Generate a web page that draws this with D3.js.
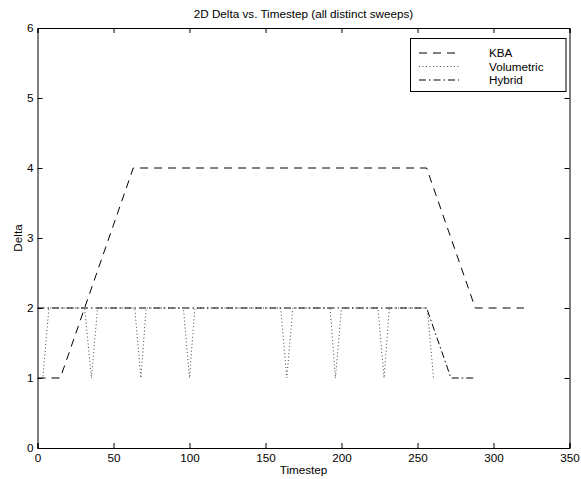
<!DOCTYPE html>
<html><head><meta charset="utf-8">
<script src="https://cdn.jsdelivr.net/npm/d3@7"></script>
<style>body{margin:0;background:#fff}svg{display:block}text{font-family:"Liberation Sans",Arial,sans-serif;fill:#000}</style>
</head><body><svg id="c" width="581" height="479"></svg>
<script>
const title = "2D Delta vs. Timestep (all distinct sweeps)";
const xLabel = "Timestep";
const yLabel = "Delta";
const xTicks = [0,50,100,150,200,250,300,350];
const yTicks = [0,1,2,3,4,5,6];
const seriesNames = ["KBA","Volumetric","Hybrid"];
const kbaX = [0,15,63,256,288,320];
const kbaY = [1,1,4,4,2,2];
const volX = [0,3.5,7.5,31,35.5,39.5,64,68,71.5,96,100,103.5,160,164,168,192.5,196,200,224,228,231.5,256.5,260.5];
const volY = [1,1,2,2,1,2,2,1,2,2,1,2,2,1,2,2,1,2,2,1,2,2,1];
const hybX = [0,256,272,288];
const hybY = [2,2,1,1];

const svg = d3.select("#c");
const L=37.5, R=569.5, T=28, B=448;
const x = d3.scaleLinear().domain([0,350]).range([L,R]);
const y = d3.scaleLinear().domain([0,6]).range([B,T]);
const fs = 11.7;

// axes
const gB = svg.append("g").attr("transform",`translate(0,${B})`).call(d3.axisBottom(x).tickValues(xTicks).tickSize(-5).tickPadding(6).tickFormat(d3.format("d")));
const gT = svg.append("g").attr("transform",`translate(0,${T})`).call(d3.axisTop(x).tickValues(xTicks).tickSize(-5).tickFormat(""));
const gL = svg.append("g").attr("transform",`translate(${L},0)`).call(d3.axisLeft(y).tickValues(yTicks).tickSize(-5).tickPadding(4).tickFormat(d3.format("d")));
const gR = svg.append("g").attr("transform",`translate(${R},0)`).call(d3.axisRight(y).tickValues(yTicks).tickSize(-5).tickFormat(""));
[gB,gT,gL,gR].forEach(g=>{
  g.selectAll("path").attr("stroke","#000").attr("stroke-width",1);
  g.selectAll("line").attr("stroke","#000");
  g.selectAll("text").attr("font-size",fs).attr("font-family","Liberation Sans, Arial, sans-serif");
});
gB.selectAll("text").attr("dy","0.71em");

const clip = svg.append("defs").append("clipPath").attr("id","pc").append("rect").attr("x",L).attr("y",T).attr("width",R-L).attr("height",B-T);

const line = d3.line().x(d=>x(d[0])).y(d=>y(d[1]));
const series = [
  {pts: d3.zip(kbaX,kbaY), dash:"8,6", col:"#000"},
  {pts: d3.zip(volX,volY), dash:"1,2.5", col:"#444"},
  {pts: d3.zip(hybX,hybY), dash:"7,3,1.5,3", col:"#000"}
];
const pg = svg.append("g").attr("clip-path","url(#pc)");
series.forEach(s=>{
  pg.append("path").attr("d",line(s.pts)).attr("fill","none").attr("stroke",s.col).attr("stroke-width",1).attr("stroke-dasharray",s.dash);
});

// labels
svg.append("text").attr("x",(L+R)/2).attr("y",18).attr("text-anchor","middle").attr("font-size",fs).text(title);
svg.append("text").attr("x",(L+R)/2).attr("y",474).attr("text-anchor","middle").attr("font-size",fs).text(xLabel);
svg.append("text").attr("transform",`translate(22,${(T+B)/2}) rotate(-90)`).attr("text-anchor","middle").attr("font-size",fs).text(yLabel);

// legend
const lg = svg.append("g");
lg.append("rect").attr("x",410.5).attr("y",38.5).attr("width",155.5).attr("height",53).attr("fill","#fff").attr("stroke","#000").attr("stroke-width",1);
seriesNames.forEach((n,i)=>{
  const yy = 53 + i*13.5;
  lg.append("line").attr("x1",419).attr("x2",459).attr("y1",yy).attr("y2",yy).attr("stroke",series[i].col).attr("stroke-width",1).attr("stroke-dasharray",series[i].dash);
  lg.append("text").attr("x",489).attr("y",yy).attr("dy","0.35em").attr("font-size",fs).text(n);
});
</script></body></html>
